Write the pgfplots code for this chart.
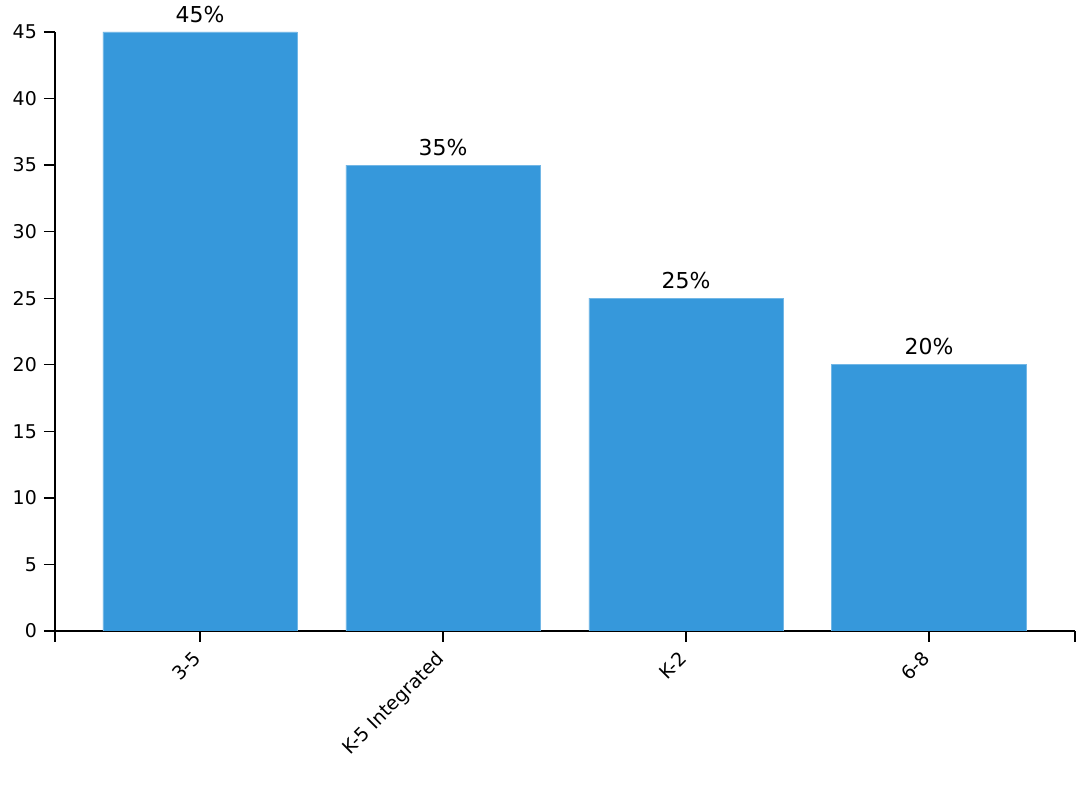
\documentclass[border=0pt]{standalone}
\usepackage{fontspec}
\setmainfont{DejaVu Sans}
\usepackage{pgfplots}
\pgfplotsset{compat=1.18}
\definecolor{barblue}{HTML}{3698DB}
\begin{document}
\begin{tikzpicture}
\begin{axis}[
    scale only axis,
    width=1020bp, height=599bp,
    axis lines*=left,
    axis line style={line width=1.6bp},
    xmin=-0.597, xmax=3.601,
    ymin=0, ymax=45,
    xtick=data,
    xticklabels={3-5, K-5 Integrated, K-2, 6-8},
    ytick={0,5,...,45},
    tick align=outside,
    major tick length=11bp,
    tick style={line width=1.3bp, black},
    xticklabel style={rotate=45, anchor=north east, font=\fontsize{19}{22}\selectfont, inner sep=1bp, xshift=-10bp, yshift=1bp},
    yticklabel style={font=\fontsize{19}{22}\selectfont, inner sep=1bp, xshift=-6bp},
    /pgf/number format/assume math mode=true,
    extra x ticks={-0.597,3.601},
    extra x tick labels={},
    ybar, bar width=0.8, bar shift=0pt,
    nodes near coords={\pgfmathprintnumber{\pgfplotspointmeta}\%},
    every node near coord/.append style={font=\fontsize{22}{26}\selectfont, black, yshift=6bp},
]
\addplot[fill=barblue, draw=barblue!70!white, line width=0.6bp]
coordinates{(0,45)(1,35)(2,25)(3,20)};
\end{axis}
\pgfresetboundingbox
\path (current axis.south west) ++(-55bp,-162bp) rectangle (current axis.north east) ++(12bp,32bp);
\end{tikzpicture}
\end{document}
